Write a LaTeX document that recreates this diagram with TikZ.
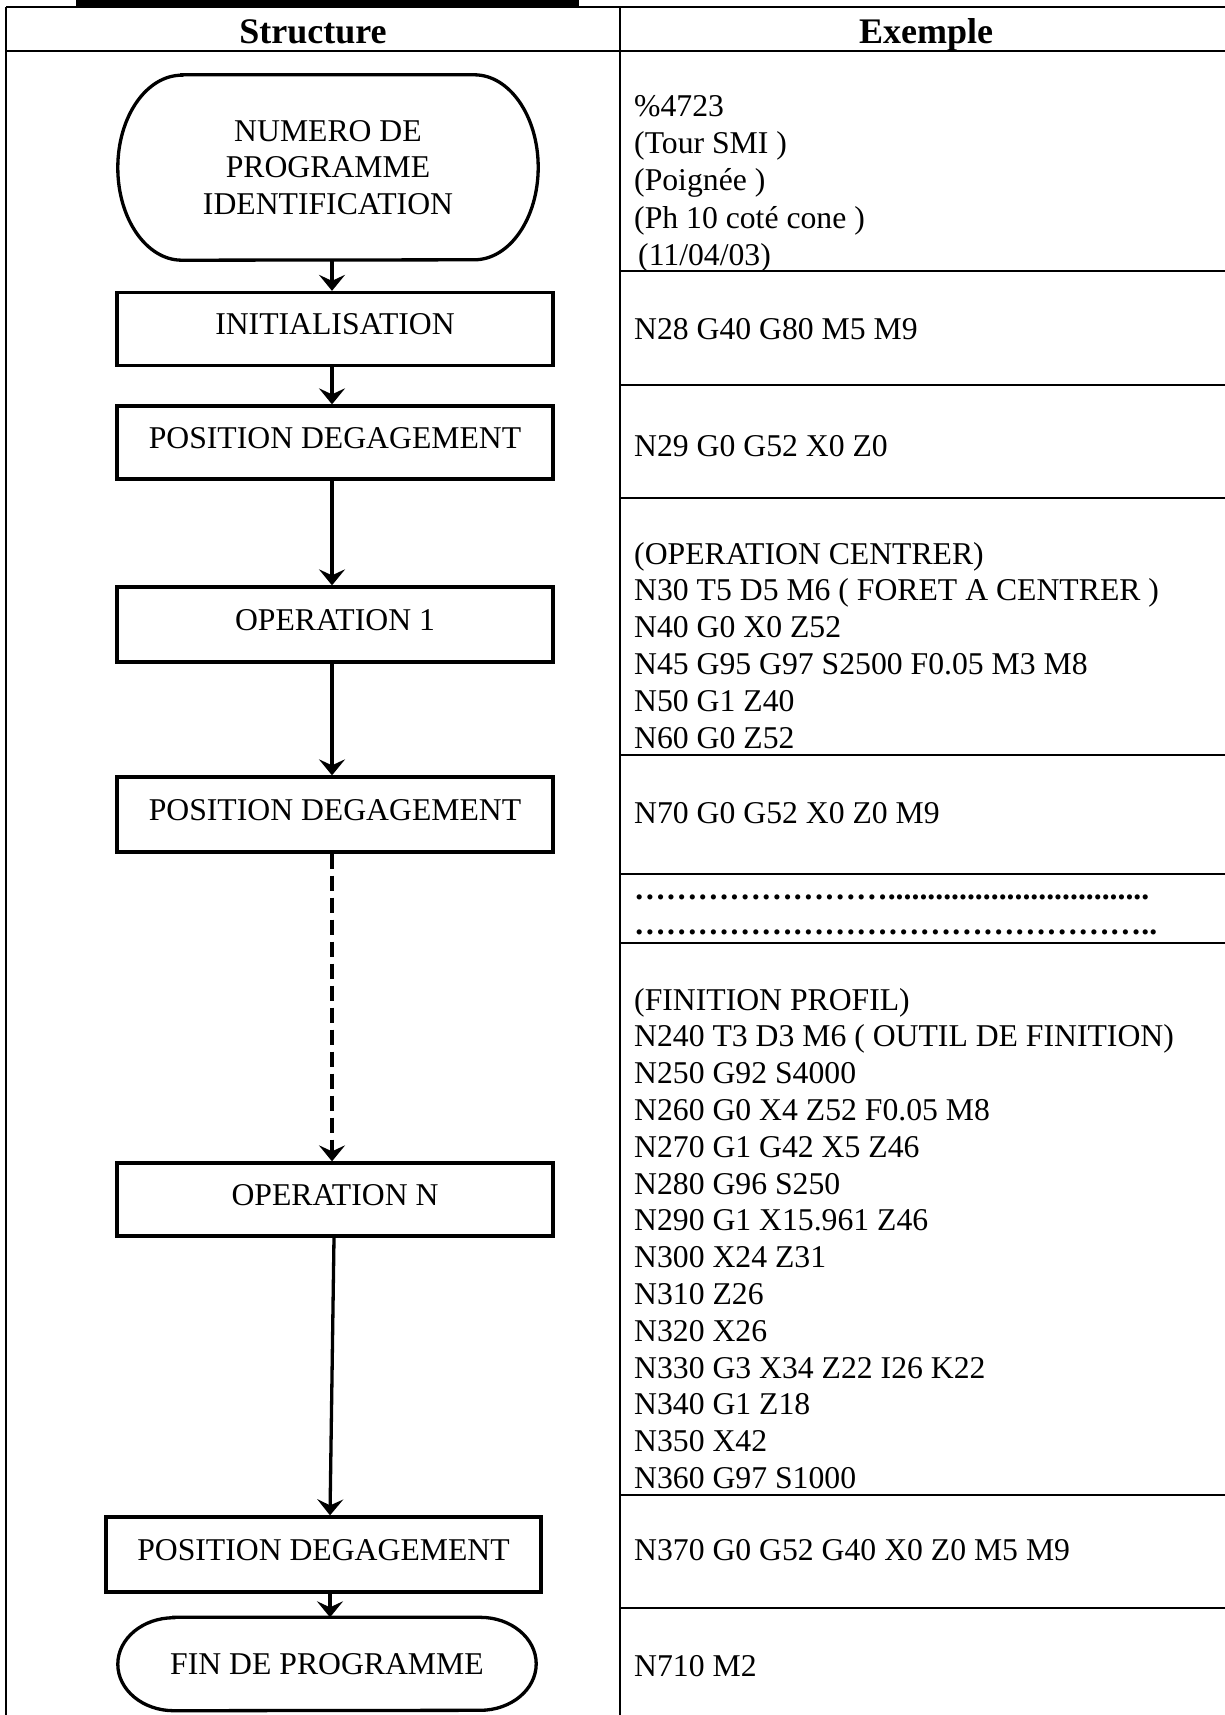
\documentclass[tikz,border=0pt]{standalone}
\usepackage{fontspec}
\setmainfont{Liberation Serif}
\usetikzlibrary{arrows.meta}
\newcommand{\txtfont}{\fontsize{31.7}{36.8}\selectfont}
\newcommand{\hdrfont}{\fontsize{36}{42}\selectfont\bfseries}
\begin{document}
\begin{tikzpicture}[x=1pt,y=1pt,
  tbl/.style={line width=2.6pt},
  shp/.style={line width=3.3pt},
  procbox/.style={draw, line width=3.3pt, minimum width=436pt, minimum height=73pt,
    inner sep=0pt, font=\txtfont, text height=21pt, text depth=10pt},
  termtxt/.style={inner sep=0pt, font=\txtfont, align=center},
  codeline/.style={anchor=base west, inner sep=0pt, font=\txtfont},
  dotline/.style={anchor=base west, inner sep=0pt, font=\txtfont\bfseries},
  head/.style={anchor=base, inner sep=0pt, font=\hdrfont},
  arr/.style={line width=3.3pt, -{Stealth[length=16pt,width=26pt,inset=6pt]}},
  dasharr/.style={arr, dash pattern=on 15pt off 7pt}]
\useasboundingbox (0,0) rectangle (1224,-1715);
\fill[white] (0,0) rectangle (1224,-1715);
% cut-off title underline
\fill (76,1) rectangle (579,-7);
% table grid
\draw[tbl] (6,-7) -- (1230,-7);
\draw[tbl] (6,-51) -- (1230,-51);
\draw[tbl] (6,-7) -- (6,-1720);
\draw[tbl] (620,-7) -- (620,-1720);
\foreach \yy in {271,385,498,755,874,943,1495,1608}
  \draw[tbl] (620,-\yy) -- (1230,-\yy);
% headers
\node[head] (hs) at (313,-44) {Structure};
\node[head] (he) at (926,-44) {Exemple};
% flowchart
\node[termtxt, minimum width=420pt, minimum height=185pt] (t1) at (328,-167.5)
  {NUMERO DE\\PROGRAMME\\IDENTIFICATION};
\draw[shp] ([xshift=64pt]t1.north west) -- ([xshift=-64pt]t1.north east)
  arc[start angle=90,end angle=-90,x radius=64pt,y radius=92.5pt]
  -- ([xshift=64pt]t1.south west)
  arc[start angle=270,end angle=90,x radius=64pt,y radius=92.5pt] -- cycle;
\node[procbox] (init) at (335,-329) {INITIALISATION};
\node[procbox] (pd1) at (335,-442.5) {POSITION DEGAGEMENT};
\node[procbox, minimum height=75pt] (op1) at (335,-624.5) {OPERATION 1};
\node[procbox, minimum height=75pt] (pd2) at (335,-814.5) {POSITION DEGAGEMENT};
\node[procbox] (opn) at (335,-1199.5) {OPERATION N};
\node[procbox, minimum width=435pt, minimum height=75pt] (pd3) at (323.5,-1554.5) {POSITION DEGAGEMENT};
\node[termtxt, minimum width=418pt, minimum height=93pt] (fin) at (327,-1664) {FIN DE PROGRAMME};
\draw[shp] ([xshift=56pt]fin.north west) -- ([xshift=-56pt]fin.north east)
  arc[start angle=90,end angle=-90,x radius=56pt,y radius=46.5pt]
  -- ([xshift=56pt]fin.south west)
  arc[start angle=270,end angle=90,x radius=56pt,y radius=46.5pt] -- cycle;
% connectors
\coordinate (ax) at (332,0);
\coordinate (bx) at (330,0);
\coordinate (cx) at (334,0);
\draw[arr] (t1.south -| ax) -- (init.north -| ax);
\draw[arr] (init.south -| ax) -- (pd1.north -| ax);
\draw[arr] (pd1.south -| ax) -- (op1.north -| ax);
\draw[arr] (op1.south -| ax) -- (pd2.north -| ax);
\draw[dasharr] (pd2.south -| ax) -- (opn.north -| ax);
\draw[arr] (opn.south -| cx) -- (pd3.north -| bx);
\draw[arr] (pd3.south -| bx) -- (fin.north -| bx);
% example column
\node[codeline] (a1) at (634,-117) {\%4723};
\node[codeline] (a2) at (634,-154) {(Tour SMI )};
\node[codeline] (a3) at (634,-191) {(Poignée )};
\node[codeline] (a4) at (634,-228) {(Ph 10 coté cone )};
\node[codeline] (a5) at (638,-265) {(11/04/03)};
\node[codeline] (b1) at (634,-339) {N28 G40 G80 M5 M9};
\node[codeline] (c1) at (634,-456) {N29 G0 G52 X0 Z0};
\foreach \t [count=\i] in {(OPERATION CENTRER),N30 T5 D5 M6 ( FORET A CENTRER ),N40 G0 X0 Z52,N45 G95 G97 S2500 F0.05 M3 M8,N50 G1 Z40,N60 G0 Z52}
  \node[codeline] (d\i) at (634,{-564-36.8*(\i-1)}) {\t};
\node[codeline] (e1) at (634,-823) {N70 G0 G52 X0 Z0 M9};
\node[dotline] (f1) at (634,-899) {…………………….................................};
\node[dotline] (f2) at (634,-934) {…………………………………………..};
\foreach \t [count=\i] in {(FINITION PROFIL),N240 T3 D3 M6 ( OUTIL DE FINITION),N250 G92 S4000,N260 G0 X4 Z52 F0.05 M8,N270 G1 G42 X5 Z46,N280 G96 S250,N290 G1 X15.961 Z46,N300 X24 Z31,N310 Z26,N320 X26,N330 G3 X34 Z22 I26 K22,N340 G1 Z18,N350 X42,N360 G97 S1000}
  \node[codeline] (g\i) at (634,{-1010-36.8*(\i-1)}) {\t};
\node[codeline] (h1) at (634,-1560) {N370 G0 G52 G40 X0 Z0 M5 M9};
\node[codeline] (k1) at (634,-1676) {N710 M2};
\end{tikzpicture}
\end{document}
